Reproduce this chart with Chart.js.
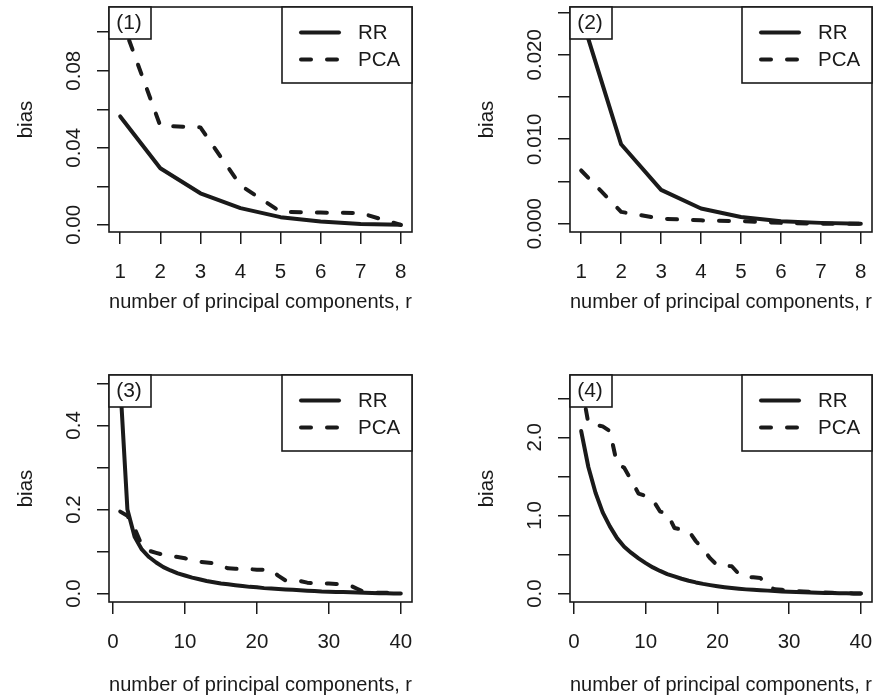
<!DOCTYPE html>
<html>
<head>
<meta charset="utf-8">
<title>bias vs number of principal components</title>
<script src="https://cdn.jsdelivr.net/npm/chart.js@4.4.1/dist/chart.umd.min.js"></script>
<style>
  body { margin: 0; background: #fff; width: 883px; height: 699px; position: relative; overflow: hidden; }
  canvas { position: absolute; }
</style>
</head>
<body>
<canvas id="c1" width="422" height="332" style="left:0px;top:0px"></canvas>
<canvas id="c2" width="421" height="332" style="left:461px;top:0px"></canvas>
<canvas id="c3" width="422" height="332" style="left:0px;top:368px"></canvas>
<canvas id="c4" width="421" height="332" style="left:461px;top:368px"></canvas>
<script>
// number of principal components
const r8 = [1, 2, 3, 4, 5, 6, 7, 8];
const r40 = [1, 2, 3, 4, 5, 6, 7, 8, 9, 10, 11, 12, 13, 14, 15, 16, 17, 18, 19, 20,
  21, 22, 23, 24, 25, 26, 27, 28, 29, 30, 31, 32, 33, 34, 35, 36, 37, 38, 39, 40];

// panel (1)
const rr1 = [0.0563, 0.0294, 0.0164, 0.0087, 0.0040, 0.0017, 0.0005, 0.0000];
const pca1 = [0.1085, 0.0514, 0.0506, 0.0205, 0.0068, 0.0064, 0.0061, 0.0000];
// panel (2)
const rr2 = [0.0246, 0.0094, 0.0040, 0.0018, 0.0008, 0.0003, 0.0001, 0.0000];
const pca2 = [0.0063, 0.0014, 0.0006, 0.0004, 0.0003, 0.0001, 0.0000, 0.0000];
// panel (3)
const rr3 = [0.50, 0.20, 0.135, 0.105, 0.087, 0.074, 0.063, 0.055, 0.048, 0.043,
  0.038, 0.034, 0.030, 0.027, 0.024, 0.022, 0.020, 0.018, 0.016, 0.015,
  0.013, 0.012, 0.011, 0.010, 0.009, 0.008, 0.007, 0.006, 0.005, 0.0045,
  0.004, 0.0035, 0.003, 0.0025, 0.002, 0.0015, 0.001, 0.0008, 0.0004, 0.0002];
const pca3 = [0.195, 0.185, 0.155, 0.115, 0.102, 0.097, 0.092, 0.090, 0.087, 0.084,
  0.079, 0.076, 0.074, 0.072, 0.066, 0.060, 0.059, 0.058, 0.058, 0.057,
  0.057, 0.056, 0.042, 0.031, 0.030, 0.030, 0.026, 0.024, 0.024, 0.024,
  0.023, 0.021, 0.019, 0.011, 0.003, 0.002, 0.002, 0.002, 0.001, 0.000];
// panel (4)
const rr4 = [2.08, 1.62, 1.29, 1.04, 0.86, 0.71, 0.60, 0.52, 0.45, 0.39,
  0.335, 0.29, 0.25, 0.22, 0.19, 0.165, 0.143, 0.124, 0.108, 0.094,
  0.082, 0.071, 0.062, 0.054, 0.048, 0.043, 0.038, 0.033, 0.028, 0.024,
  0.020, 0.017, 0.014, 0.011, 0.009, 0.007, 0.005, 0.004, 0.002, 0.001];
const pca4 = [2.69, 2.18, 2.16, 2.14, 2.08, 1.66, 1.61, 1.45, 1.28, 1.25,
  1.20, 1.05, 1.03, 0.84, 0.82, 0.80, 0.67, 0.57, 0.45, 0.36,
  0.355, 0.35, 0.25, 0.21, 0.21, 0.20, 0.09, 0.055, 0.048, 0.038,
  0.032, 0.026, 0.021, 0.017, 0.013, 0.010, 0.007, 0.004, 0.002, 0.001];

// axis ticks and their labels ('' = tick mark without label)
const xTicks8 = [1, 2, 3, 4, 5, 6, 7, 8];
const xTicks40 = [0, 10, 20, 30, 40];
const yTicks1 = [0, 0.02, 0.04, 0.06, 0.08, 0.10];
const yLabels1 = ['0.00', '', '0.04', '', '0.08', ''];
const yTicks2 = [0, 0.005, 0.010, 0.015, 0.020, 0.025];
const yLabels2 = ['0.000', '', '0.010', '', '0.020', ''];
const yTicks3 = [0, 0.1, 0.2, 0.3, 0.4, 0.5];
const yLabels3 = ['0.0', '', '0.2', '', '0.4', ''];
const yTicks4 = [0, 0.5, 1.0, 1.5, 2.0, 2.5];
const yLabels4 = ['0.0', '', '1.0', '', '2.0', ''];

const INK = '#1a1a1a';
const FAMILY = '"Liberation Sans", Arial, Helvetica, sans-serif';
const SIZE = 20.5;
Chart.defaults.font.family = FAMILY;
Chart.defaults.font.size = SIZE;
Chart.defaults.color = INK;

const measure = document.createElement('canvas').getContext('2d');
measure.font = SIZE + 'px ' + FAMILY;
function widest(labels) {
  return Math.max(...labels.map(s => measure.measureText(s).width));
}

// plot frame, panel tag and legend box, drawn like R's box() and legend()
const deco = {
  id: 'deco',
  afterDraw(chart, args, opts) {
    const ctx = chart.ctx;
    const a = chart.chartArea;
    ctx.save();
    ctx.strokeStyle = INK;
    ctx.lineWidth = 1.6;
    ctx.strokeRect(a.left, a.top, a.right - a.left, a.bottom - a.top);

    ctx.fillStyle = '#fff';
    ctx.fillRect(a.left, a.top, 42, 32);
    ctx.strokeRect(a.left, a.top, 42, 32);
    ctx.fillStyle = INK;
    ctx.font = '21px ' + FAMILY;
    ctx.textAlign = 'center';
    ctx.textBaseline = 'middle';
    ctx.fillText(opts.tag, a.left + 20, a.top + 16);

    const lx = a.right - 130;
    ctx.fillStyle = '#fff';
    ctx.fillRect(lx, a.top, 130, 76);
    ctx.strokeRect(lx, a.top, 130, 76);
    ctx.font = SIZE + 'px ' + FAMILY;
    chart.data.datasets.forEach((ds, i) => {
      const y = a.top + 25.5 + i * 27;
      ctx.beginPath();
      ctx.setLineDash(ds.borderDash || []);
      ctx.lineWidth = ds.borderWidth;
      ctx.lineCap = 'round';
      ctx.moveTo(a.right - 111, y);
      ctx.lineTo(a.right - 73, y);
      ctx.stroke();
      ctx.setLineDash([]);
      ctx.fillStyle = INK;
      ctx.textAlign = 'left';
      ctx.fillText(ds.label, a.right - 54, y + 1);
    });
    ctx.restore();
  }
};

function makePanel(p) {
  const line = (label, ys, dash) => ({
    label: label,
    data: p.xs.map((x, i) => ({ x: x, y: ys[i] })),
    borderColor: INK,
    borderWidth: 4,
    borderDash: dash,
    borderCapStyle: 'round',
    borderJoinStyle: 'round',
    pointRadius: 0,
    tension: 0,
    fill: false
  });
  const yPad = 22.5 - widest(p.yLabels) / 2;
  new Chart(document.getElementById(p.id), {
    type: 'line',
    data: {
      datasets: [line('RR', p.rr, []), line('PCA', p.pca, [10, 16])]
    },
    options: {
      responsive: false,
      animation: false,
      devicePixelRatio: 1,
      layout: { padding: { top: 7, right: 10, left: 0, bottom: 0 } },
      plugins: {
        legend: { display: false },
        tooltip: { enabled: false },
        deco: { tag: p.tag }
      },
      scales: {
        x: {
          type: 'linear',
          min: p.xMin,
          max: p.xMax,
          afterBuildTicks: s => { s.ticks = p.xTicks.map(v => ({ value: v })); },
          afterFit: s => {
            s.height = p.bottom;
            s.paddingLeft = 0; s.paddingRight = 0;
          },
          grid: { drawOnChartArea: false, color: INK, lineWidth: 1.5, tickLength: 12 },
          border: { display: false },
          ticks: { autoSkip: false, maxRotation: 0, padding: 16, callback: (v, i) => String(p.xTicks[i]) },
          title: {
            display: true,
            text: 'number of principal components, r',
            padding: { top: 0, bottom: p.titlePad }
          }
        },
        y: {
          type: 'linear',
          min: p.yMin,
          max: p.yMax,
          afterBuildTicks: s => { s.ticks = p.yTicks.map(v => ({ value: v })); },
          afterFit: s => {
            s.width = 109;
            s.paddingTop = 0; s.paddingBottom = 0;
          },
          grid: { drawOnChartArea: false, color: INK, lineWidth: 1.5, tickLength: 12 },
          border: { display: false },
          ticks: {
            autoSkip: false,
            minRotation: 90,
            maxRotation: 90,
            crossAlign: 'center',
            padding: yPad,
            callback: (v, i) => p.yLabels[i]
          },
          title: { display: true, text: 'bias', padding: { top: 14, bottom: 0 } }
        }
      }
    },
    plugins: [deco]
  });
}

makePanel({ id: 'c1', tag: '(1)', xs: r8, rr: rr1, pca: pca1,
  xMin: 0.72, xMax: 8.28, xTicks: xTicks8,
  yMin: -0.0037, yMax: 0.1131, yTicks: yTicks1, yLabels: yLabels1,
  bottom: 100, titlePad: 17 });
makePanel({ id: 'c2', tag: '(2)', xs: r8, rr: rr2, pca: pca2,
  xMin: 0.72, xMax: 8.28, xTicks: xTicks8,
  yMin: -0.00098, yMax: 0.02565, yTicks: yTicks2, yLabels: yLabels2,
  bottom: 100, titlePad: 17 });
makePanel({ id: 'c3', tag: '(3)', xs: r40, rr: rr3, pca: pca3,
  xMin: -0.56, xMax: 41.56, xTicks: xTicks40,
  yMin: -0.02, yMax: 0.52, yTicks: yTicks3, yLabels: yLabels3,
  bottom: 98, titlePad: 2 });
makePanel({ id: 'c4', tag: '(4)', xs: r40, rr: rr4, pca: pca4,
  xMin: -0.56, xMax: 41.56, xTicks: xTicks40,
  yMin: -0.1076, yMax: 2.7976, yTicks: yTicks4, yLabels: yLabels4,
  bottom: 98, titlePad: 2 });
</script>
</body>
</html>
